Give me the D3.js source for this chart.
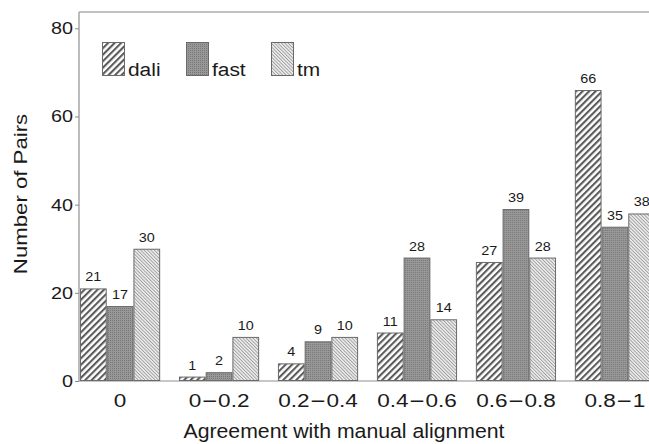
<!DOCTYPE html>
<html><head><meta charset="utf-8">
<script src="https://cdn.jsdelivr.net/npm/d3@7"></script>
<style>
html,body{margin:0;padding:0;background:#fff;}
svg{display:block;}
text{font-family:"Liberation Sans",Arial,Helvetica,sans-serif;fill:#1a1a1a;}
</style></head>
<body>
<svg id="c" width="649" height="444"></svg>
<script>
const categories = ["0", "0\u22120.2", "0.2\u22120.4", "0.4\u22120.6", "0.6\u22120.8", "0.8\u22121"];
const seriesNames = ["dali", "fast", "tm"];
const dali = [21, 1, 4, 11, 27, 66];
const fast = [17, 2, 9, 28, 39, 35];
const tm = [30, 10, 10, 14, 28, 38];
const yTicks = [0, 20, 40, 60, 80];
const xTitle = "Agreement with manual alignment";
const yTitle = "Number of Pairs";

(function(){
const values = {dali, fast, tm};

const svg = d3.select("#c");
const defs = svg.append("defs");

const pD = defs.append("pattern").attr("id","p-dali").attr("patternUnits","userSpaceOnUse")
  .attr("width",4.6).attr("height",4.6).attr("patternTransform","rotate(45)");
pD.append("rect").attr("width",4.6).attr("height",4.6).attr("fill","#fff");
pD.append("rect").attr("width",2.1).attr("height",4.6).attr("fill","#5a5a5a");

const pF = defs.append("pattern").attr("id","p-fast").attr("patternUnits","userSpaceOnUse")
  .attr("width",2).attr("height",2);
pF.append("rect").attr("width",2).attr("height",2).attr("fill","#989898");
pF.append("rect").attr("width",1).attr("height",1).attr("fill","#767676");

const pT = defs.append("pattern").attr("id","p-tm").attr("patternUnits","userSpaceOnUse")
  .attr("width",2.4).attr("height",2.4).attr("patternTransform","rotate(-45)");
pT.append("rect").attr("width",2.4).attr("height",2.4).attr("fill","#eeeeee");
pT.append("rect").attr("width",0.9).attr("height",2.4).attr("fill","#9c9c9c");

const fills = {dali:"url(#p-dali)", fast:"url(#p-fast)", tm:"url(#p-tm)"};

const mLeft = 79, mTop = 12, mBottom = 381, mRight = 655;

const x0 = d3.scaleBand().domain(categories).range([mLeft+1, mRight]).paddingInner(0.19).paddingOuter(0);
const x1 = d3.scaleBand().domain(seriesNames).range([0, x0.bandwidth()]).padding(0);
const y = d3.scaleLinear().domain([0, 83.7]).range([mBottom, mTop]);

function stretchedText(sel, x, yy, str, size, anchor, sx, rot){
  const g = sel.append("g").attr("transform", `translate(${x},${yy})` + (rot ? ` rotate(${rot})` : "") + ` scale(${sx},1)`);
  const t = g.append("text").attr("text-anchor", anchor).style("font-size", size+"px");
  t.text(str);
  return t;
}

svg.append("line").attr("x1",mLeft).attr("x2",649).attr("y1",mTop).attr("y2",mTop)
  .attr("stroke","#acacac").attr("stroke-width",1.6);
svg.append("line").attr("x1",mLeft).attr("x2",649).attr("y1",mBottom).attr("y2",mBottom)
  .attr("stroke","#b4b4b4").attr("stroke-width",1.6);

const groups = svg.append("g").selectAll("g").data(categories).join("g")
  .attr("transform", d => `translate(${x0(d)},0)`);
groups.selectAll("rect").data((c,i) => seriesNames.map(s => ({s, v: values[s][i]}))).join("rect")
  .attr("x", d => x1(d.s) + 0.5)
  .attr("y", d => y(d.v) + 0.5)
  .attr("width", x1.bandwidth() - 1)
  .attr("height", d => Math.max(0, y(0) - y(d.v) - 1))
  .attr("fill", d => fills[d.s])
  .attr("stroke", "#6a6a6a").attr("stroke-width", 1);

groups.each(function(c, i){
  const g = d3.select(this);
  seriesNames.forEach(s => {
    const v = values[s][i];
    stretchedText(g, x1(s) + x1.bandwidth()/2, y(v) - 7, String(v), 12, "middle", 1.2);
  });
});

const yAxis = d3.axisLeft(y).tickValues(yTicks).tickSize(4).tickFormat("");
const ya = svg.append("g").attr("transform", `translate(${mLeft},0)`).call(yAxis);
ya.select(".domain").attr("stroke","#acacac").attr("stroke-width",1.6).attr("d", `M0,${mTop}V${mBottom}`);
ya.selectAll(".tick line").attr("stroke","#888");
yTicks.forEach(t => stretchedText(svg, mLeft - 6, y(t) + 6, String(t), 16.5, "end", 1.2));

categories.forEach(c => {
  const parts = c.split("\u2212");
  const g = svg.append("g").attr("transform", `translate(${x0(c) + x0.bandwidth()/2},407) scale(1.22,1)`);
  const t = g.append("text").attr("text-anchor","middle").style("font-size","18.5px");
  t.append("tspan").text(parts[0]);
  if (parts.length > 1) {
    t.append("tspan").attr("dx", 0.8).style("font-size","21px").attr("baseline-shift","-1.2px").text("\u2212");
    t.append("tspan").attr("dx", 0.8).text(parts[1]);
  }
});

stretchedText(svg, 344, 438, xTitle, 19.5, "middle", 1.09);
stretchedText(svg, 27, 194, yTitle, 18.5, "middle", 1.2, -90);

const legX = [102, 186, 271];
seriesNames.forEach((s, i) => {
  svg.append("rect").attr("x", legX[i]+0.5).attr("y", 42.5).attr("width", 22).attr("height", 33)
    .attr("fill", fills[s]).attr("stroke", "#6a6a6a").attr("stroke-width", 1);
  stretchedText(svg, legX[i] + 26, 75.5, s, 19, "start", 1.1);
});
})();
</script>
</body></html>
